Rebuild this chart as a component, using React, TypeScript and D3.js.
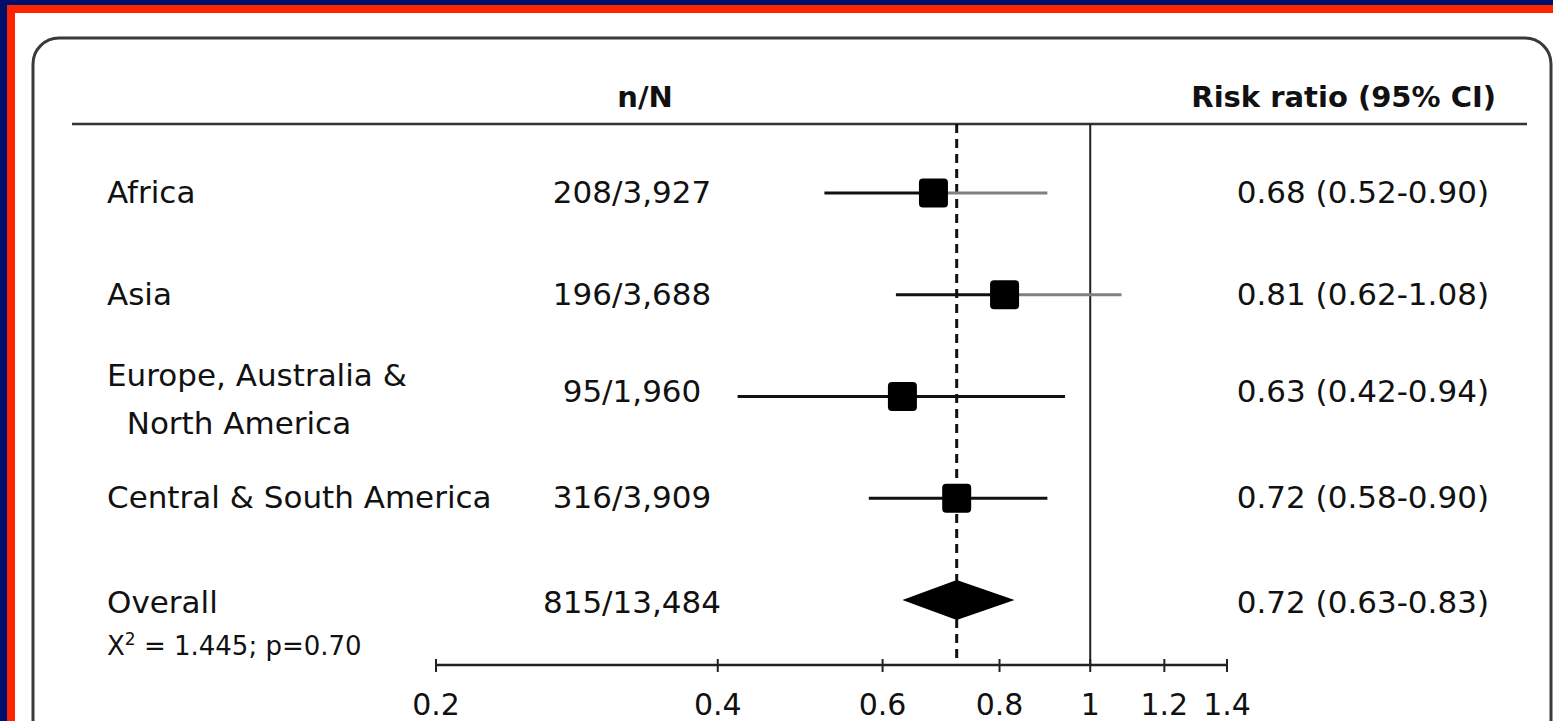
import React from "react";
import * as d3 from "d3";

const regions = ["Africa", "Asia", "Europe, Australia & North America", "Central & South America", "Overall"];
const labelLines = [["Africa"], ["Asia"], ["Europe, Australia &", "  North America"], ["Central & South America"], ["Overall"]];
const counts = ["208/3,927", "196/3,688", "95/1,960", "316/3,909", "815/13,484"];
const estimates = [0.68, 0.81, 0.63, 0.72, 0.72];
const lowers = [0.52, 0.62, 0.42, 0.58, 0.63];
const uppers = [0.90, 1.08, 0.94, 0.90, 0.83];
const ciLabels = ["0.68 (0.52-0.90)", "0.81 (0.62-1.08)", "0.63 (0.42-0.94)", "0.72 (0.58-0.90)", "0.72 (0.63-0.83)"];
const tickValues = [0.2, 0.4, 0.6, 0.8, 1, 1.2, 1.4];
const heterogeneity = "= 1.445; p=0.70";
const overallIndex = 4;
const grayTailRows = ["Africa", "Asia"];

const W = 1553;
const H = 721;
const FONT = "'DejaVu Sans', sans-serif";

export default function App() {
  const x = d3.scaleLog().domain([0.2, 1.4]).range([436, 1227]);
  const y = d3.scalePoint<string>().domain(regions).range([193, 600]);
  const axisY = 665;
  const topY = 124;
  const pooled = estimates[overallIndex];

  return (
    <svg
      width={W}
      height={H}
      style={{ position: "absolute", left: 0, top: 0, display: "block" }}
      fontFamily={FONT}
    >
      <rect x={0} y={0} width={W} height={H} fill="#00106a" />
      <rect x={7} y={5} width={W} height={H} fill="#ff2400" />
      <rect x={15} y={13} width={W} height={H} fill="#ffffff" />
      <rect x={33} y={38} width={1518} height={760} rx={26} ry={26} fill="#ffffff" stroke="#3a3a3a" strokeWidth={3} />

      {/* headers */}
      <text x={645} y={107} textAnchor="middle" fontWeight="bold" fontSize={29} fill="#111">n/N</text>
      <text x={1496} y={107} textAnchor="end" fontWeight="bold" fontSize={29} fill="#111">Risk ratio (95% CI)</text>
      <line x1={72} x2={1527} y1={topY} y2={topY} stroke="#333" strokeWidth={2.5} />

      {/* reference lines */}
      <line x1={x(1)} x2={x(1)} y1={topY} y2={axisY} stroke="#222" strokeWidth={2} />
      <line x1={x(pooled)} x2={x(pooled)} y1={topY} y2={axisY} stroke="#111" strokeWidth={3} strokeDasharray="9 6" />

      {/* rows */}
      {regions.map((r, i) => {
        const cy = y(r)!;
        const lines = labelLines[i];
        const isOverall = i === overallIndex;
        return (
          <g key={r}>
            {lines.length === 1 ? (
              <text x={107} y={cy} dy={isOverall ? 13 : 10} fontSize={31} fill="#111">{lines[0]}</text>
            ) : (
              <text x={107} y={cy} fontSize={31} fill="#111" style={{ whiteSpace: "pre" }}>
                <tspan x={107} dy={-11}>{lines[0]}</tspan>
                <tspan x={107} dy={48} xmlSpace="preserve">{lines[1]}</tspan>
              </text>
            )}
            <text x={632} y={cy} dy={isOverall ? 13 : lines.length > 1 ? 5 : 10} textAnchor="middle" fontSize={31} fill="#111">{counts[i]}</text>
            <text x={1489} y={cy} dy={isOverall ? 13 : lines.length > 1 ? 5 : 10} textAnchor="end" fontSize={31} fill="#111">{ciLabels[i]}</text>
            {isOverall ? (
              <path
                d={`M${x(lowers[i])},${cy} L${x(estimates[i])},${cy - 20} L${x(uppers[i])},${cy} L${x(estimates[i])},${cy + 20} Z`}
                fill="#000"
              />
            ) : (
              <g>
                <line x1={x(lowers[i])} x2={x(estimates[i])} y1={cy} y2={cy} stroke="#111" strokeWidth={3} />
                <line
                  x1={x(estimates[i])}
                  x2={x(uppers[i])}
                  y1={cy}
                  y2={cy}
                  stroke={grayTailRows.includes(r) ? "#808080" : "#111"}
                  strokeWidth={3}
                />
                <rect x={x(estimates[i]) - 14.5} y={cy - 14.5} width={29} height={29} rx={4} fill="#000" />
              </g>
            )}
          </g>
        );
      })}

      {/* heterogeneity */}
      <text x={107} y={655} fontSize={26} fill="#111">
        X<tspan dy={-10} fontSize={17}>2</tspan><tspan dy={10}> {heterogeneity}</tspan>
      </text>

      {/* axis */}
      <line x1={x(0.2)} x2={x(1.4)} y1={axisY} y2={axisY} stroke="#222" strokeWidth={2.5} />
      {tickValues.map((t) => (
        <g key={t}>
          <line x1={x(t)} x2={x(t)} y1={axisY - 6} y2={axisY + 7} stroke="#222" strokeWidth={2} />
          <text x={x(t)} y={715} textAnchor="middle" fontSize={30} fill="#111">{String(t)}</text>
        </g>
      ))}
    </svg>
  );
}
